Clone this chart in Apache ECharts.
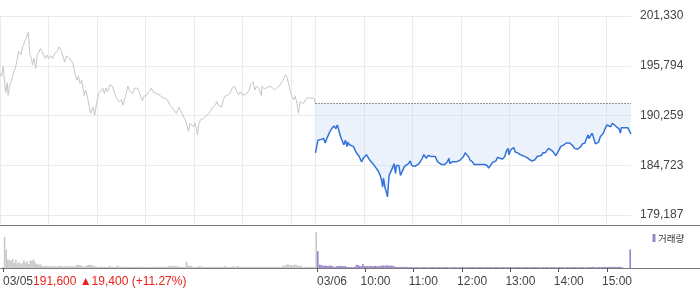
<!DOCTYPE html>
<html><head><meta charset="utf-8">
<script src="https://cdn.jsdelivr.net/npm/echarts@6/dist/echarts.min.js"></script>
<style>html,body{margin:0;padding:0;background:#fff}#c{width:700px;height:289px}</style>
</head><body><div id="c"></div>
<script>
// ---- data ----
const prevClose = 191600;
const dayChange = 19400;
const dayChangePct = '+11.27%';
const yTickValues = [179187, 184723, 190259, 195794, 201330];
// minutes counted from 03/05 09:00 (03/06 09:00 = 390)
const xGridMinutes = [0, 60, 120, 180, 240, 300, 360, 390, 450, 510, 570, 630, 690, 750];
const xTickMinutes = [0, 390, 450, 510, 570, 630, 690, 750];
const xTickLabels = ['03/05', '03/06', '10:00', '11:00', '12:00', '13:00', '14:00', '15:00'];

const day1Times = [0,2,4,5,7,9,10,12,14,17,19,21,23,26,28,32,35,37,39,40,42,44,46,50,54,56,58,60,63,65,68,71,73,76,78,80,82,85,87,90,93,95,97,99,101,104,106,108,110,112,115,117,119,122,124,127,129,131,133,136,139,141,143,145,147,150,152,155,158,161,164,166,168,170,172,174,176,178,181,184,187,189,193,195,198,201,204,207,210,213,215,218,221,224,227,229,231,233,235,237,239,241,243,244,246,248,251,253,257,260,262,266,268,270,272,274,276,278,281,284,287,290,292,295,297,300,302,305,308,310,313,315,317,320,323,324,327,330,332,335,337,339,342,345,347,350,353,355,357,359,361,363,365,367,369,371,373,375,377,379,382,385,388,390];
const day1Prices = [195000,194600,195700,195700,192800,193900,192500,193700,194000,195100,195500,196400,197400,197000,197900,198800,199500,197000,196600,195900,196600,195500,197000,197700,197000,196600,197000,196600,196900,196600,197200,197400,197900,197400,196800,196200,196900,196700,196600,196100,194800,194200,194600,193800,194200,192500,193100,192400,191400,190500,191200,190300,191400,192700,192900,193300,192700,193300,192900,193700,193500,192900,192400,192500,191800,192000,191400,192400,193500,192900,192700,193300,193500,193300,192900,192400,191900,192400,192500,192900,193300,192900,192700,192500,192500,192200,192200,192000,191400,191100,191200,190500,191200,190700,190100,189800,189200,188500,189400,189600,189000,189400,188800,188100,189400,189800,189900,190100,190400,190700,191100,191400,191800,191400,191600,191200,192000,192400,192500,192700,193300,193500,193100,192600,192900,192500,192600,192700,193100,193700,194000,193100,193500,193300,192500,193500,193200,193400,193600,193500,193600,193100,193300,193500,193700,194200,194800,194400,193700,192900,192400,192000,192400,191600,190500,191800,192000,191600,191400,192200,192200,192200,192200,191600];

const day2Times = [390,391,393,395,397,400,402,404,406,408,410,412,413,415,417,419,421,423,425,427,429,430,432,434,437,440,442,444,447,449,451,453,455,457,459,461,463,465,468,470,472,473,474,476,478,479,480,481,483,485,487,489,490,493,495,497,500,502,505,507,509,511,513,515,518,520,522,524,527,529,533,535,538,541,543,546,548,550,553,555,556,559,561,564,566,569,573,575,577,579,581,584,586,588,591,593,596,599,602,604,607,610,613,615,618,621,624,626,628,629,631,633,635,637,640,643,646,648,651,654,657,659,661,664,666,669,671,674,676,678,680,683,685,687,689,691,693,695,697,700,702,704,706,708,710,712,714,716,718,720,723,725,727,728,730,732,734,736,738,740,742,744,746,748,750,752,755,757,759,762,765,767,768,772,776,777,780];
const day2Prices = [186100,186600,187500,187700,187600,187700,187200,187700,188100,188500,188800,188600,189100,188800,189200,189100,187900,187700,187000,187500,186800,187300,187000,186800,186800,186200,186100,185700,185100,185500,185300,185900,185900,185300,185100,184900,184700,184400,184000,183600,182900,182300,183300,182200,181600,181200,182500,183600,183600,184400,184900,183800,184700,184700,183600,183600,184600,184700,184900,185200,184700,184900,184600,184800,184900,184900,185500,185900,185500,185800,185700,185500,185700,185100,184900,184800,184600,184800,185100,185500,184900,185100,185100,185100,184900,185300,185700,186100,185900,185700,185300,185100,184800,184900,184800,184900,184800,184800,184700,184400,184800,185100,185200,185600,185500,185400,185700,186300,186600,185900,186400,186600,186700,186200,186100,185900,185800,185600,185600,185400,185200,185400,185300,185700,185800,185800,186100,186100,186200,186600,186600,186300,186100,185800,185900,186400,186800,186700,187000,187200,187400,187200,187000,186900,186600,186400,186500,186400,186800,187100,187200,187700,188100,187700,187900,188300,187700,187100,187200,187300,187900,188100,188300,188800,189200,189400,189000,189400,189200,189000,188800,188300,188900,188900,188900,188800,188200];

// volume (thousand shares), 2-minute slots
const day1Volume = [8,310,180,85,80,70,90,50,80,45,60,35,50,78,50,68,40,72,75,85,55,40,32,38,22,
20,18,22,20,15,20,18,20,15,18,20,22,18,15,20,18,15,20,18,
15,20,30,32,28,20,15,18,25,30,32,28,22,18,
12,10,12,15,10,12,10,12,20,15,12,10,12,22,15,10,12,10,12,10,12,10,10,12,10,12,10,12,10,12,10,10,12,10,10,12,10,12,10,10,12,10,12,15,12,
20,18,22,20,18,20,15,12,10,12,10,60,25,22,20,10,12,10,12,20,18,
10,12,10,10,12,10,12,10,10,12,10,12,10,10,20,12,10,10,12,20,10,12,20,
10,12,10,10,12,10,12,10,10,12,10,12,10,10,12,10,10,12,10,12,10,10,12,10,12,10,10,
25,20,30,42,25,30,22,35,28,25,20,22,12,10,12,10,10,12,10,12,10];
const day1CloseAuctionVolume = 357;
const day2Volume = [167,33,30,25,22,25,20,22,25,20,12,10,20,18,22,20,18,20,10,10,8,10,8,10,33,30,20,18,40,20,
20,18,22,20,18,20,22,18,20,22,25,25,22,28,25,22,25,20,12,10,12,10,12,10,10,12,
10,8,10,6,10,8,10,8,6,10, 8,10,8,6,10,8,10,6,8,10, 8,6,10,8,10,8,6,10,8,10, 6,8,10,8,12,8,6,10,8,10,
8,10,6,8,10,8,10,8,6,10, 8,10,8,6,10,8,10,6,8,10, 8,6,10,8,10,8,6,10,8,10, 6,8,10,8,10,8,6,10,8,10,
8,10,6,8,10,8,10,8,6,10, 8,10,8,6,10,8,10,6,8,10, 8,6,10,8,10,8,6,10,8,10, 6,8,10,8,10,12,6,10,8,10,
8,10,12,10,10,12,10,12,10,12, 10,12,10,8, 0,0,0,0, 185];

// ---- chart ----
const FONT = "'Liberation Sans', Arial, sans-serif";
const zip = (a, b) => a.map((t, i) => [t, b[i]]);
const GRAY_BAR = '#c7c7cc', PURPLE = '#9a85c7';
const volData = [];
day1Volume.forEach((v, i) => volData.push({ value: [i * 2, v], itemStyle: { color: GRAY_BAR } }));
volData.push({ value: [389, day1CloseAuctionVolume], itemStyle: { color: GRAY_BAR } });
day2Volume.forEach((v, j) => volData.push({ value: [391 + j * 2, v], itemStyle: { color: PURPLE } }));

const labelPos = xTickMinutes.map((m, i) => i < 2 ? m : m - 6);
const fmt = v => Math.round(v).toLocaleString('en-US');

const chart = echarts.init(document.getElementById('c'), null, { renderer: 'canvas' });
chart.setOption({
  animation: false,
  backgroundColor: '#fff',
  grid: [
    { left: 0, top: 16, width: 631, height: 209 },
    { left: 0, top: 227, width: 631, height: 41 }
  ],
  xAxis: [
    { gridIndex: 0, type: 'value', min: 0, max: 780,
      axisLine: { show: false }, axisLabel: { show: false },
      axisTick: { show: false, customValues: xGridMinutes },
      splitLine: { show: true, lineStyle: { color: '#ebebeb', width: 1 } } },
    { gridIndex: 1, type: 'value', min: 0, max: 780,
      axisLine: { show: false },
      axisTick: { show: true, customValues: xTickMinutes, length: 4, lineStyle: { color: '#555' } },
      splitLine: { show: false },
      axisLabel: {
        customValues: labelPos, align: 'left', margin: 8,
        color: '#444', fontSize: 12, fontFamily: FONT,
        formatter: v => {
          const i = labelPos.indexOf(v);
          if (i === 0) return '{d|' + xTickLabels[0] + '}{r|' + fmt(prevClose) + ' ▲' + fmt(dayChange) + ' (' + dayChangePct + ')}';
          return xTickLabels[i];
        },
        rich: {
          d: { color: '#444', fontSize: 12, fontFamily: FONT },
          r: { color: '#e8231c', fontSize: 12, fontFamily: FONT }
        }
      } }
  ],
  yAxis: [
    { gridIndex: 0, type: 'value', position: 'right', min: 178074, max: 201330,
      axisLine: { show: false },
      axisTick: { show: false, customValues: yTickValues },
      axisLabel: { customValues: yTickValues, formatter: fmt, margin: 9, color: '#444', fontSize: 12, fontFamily: FONT },
      splitLine: { show: true, lineStyle: { color: '#ebebeb', width: 1 } } },
    { gridIndex: 1, type: 'value', min: 0, max: 410, show: false }
  ],
  series: [
    { name: 'prev', type: 'line', xAxisIndex: 0, yAxisIndex: 0, data: zip(day1Times, day1Prices),
      showSymbol: false, lineStyle: { color: '#c6c6ca', width: 1 }, z: 2, silent: true },
    { name: 'today', type: 'line', xAxisIndex: 0, yAxisIndex: 0, data: zip(day2Times, day2Prices),
      showSymbol: false, lineStyle: { color: '#3272d9', width: 1.5 },
      areaStyle: { color: 'rgba(196,214,244,0.45)', origin: prevClose },
      z: 3, silent: true,
      markLine: { silent: true, symbol: 'none', label: { show: false },
        lineStyle: { type: [1, 2], color: '#333', width: 1, opacity: 1 },
        data: [[{ coord: [390, prevClose] }, { coord: [780, prevClose] }]] } },
    { name: '거래량', type: 'bar', xAxisIndex: 1, yAxisIndex: 1, data: volData,
      barWidth: 1.6, silent: true }
  ],
  graphic: [
    { type: 'line', shape: { x1: 0, y1: 225.5, x2: 700, y2: 225.5 }, style: { stroke: '#7a7a7a', lineWidth: 1 }, silent: true },
    { type: 'line', shape: { x1: 0, y1: 268.5, x2: 700, y2: 268.5 }, style: { stroke: '#7a7a7a', lineWidth: 1 }, silent: true },
    { type: 'rect', shape: { x: 652.5, y: 234, width: 3, height: 8 }, style: { fill: PURPLE }, silent: true },
    { type: 'text', x: 658, y: 238, style: { text: '거래량', fill: '#333', font: "9.5px 'Noto Sans CJK KR'", textVerticalAlign: 'middle' }, silent: true }
  ]
});
</script></body></html>
